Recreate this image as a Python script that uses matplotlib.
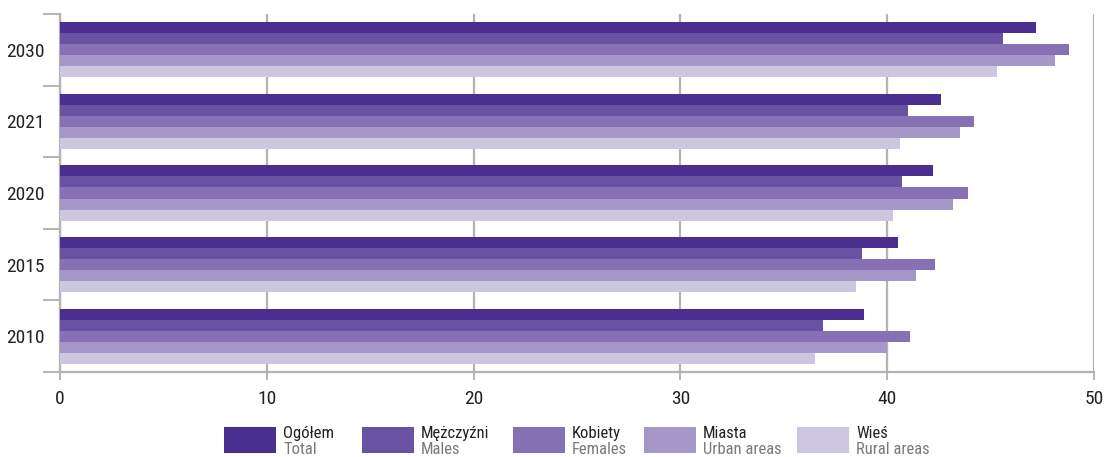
import numpy as np
import matplotlib
matplotlib.use("Agg")
import matplotlib.pyplot as plt
from matplotlib.patches import Rectangle

plt.rcParams['font.family'] = ['Liberation Sans Narrow', 'DejaVu Sans Condensed',
                               'Roboto Condensed', 'Roboto', 'DejaVu Sans']

# ---- data -------------------------------------------------------------------
years = ["2030", "2021", "2020", "2015", "2010"]          # top -> bottom
total = [47.2, 42.6, 42.2, 40.5, 38.9]
males = [45.6, 41.0, 40.7, 38.8, 36.9]
females = [48.8, 44.2, 43.9, 42.3, 41.1]
urban = [48.1, 43.5, 43.2, 41.4, 40.0]
rural = [45.3, 40.6, 40.3, 38.5, 36.5]

labels_pl = ["Ogółem", "Mężczyźni", "Kobiety", "Miasta", "Wieś"]
labels_en = ["Total", "Males", "Females", "Urban areas", "Rural areas"]
colors = ["#4a2f91", "#6a52a3", "#8571b3", "#a597c8", "#ccc6e1"]
series = [total, males, females, urban, rural]

W, H = 1105, 457
fig = plt.figure(figsize=(W / 100, H / 100), dpi=100)
ax = fig.add_axes([60 / W, 1 - 372 / H, (1094 - 60) / W, (372 - 14) / H])

GRID = "#b3b3b3"
bh = 0.154
y = np.arange(len(years))
for i, (vals, c) in enumerate(zip(series, colors)):
    off = (i - 2) * bh
    ax.barh(y + off, vals, height=bh, color=c, zorder=3, linewidth=0)

ax.set_ylim(len(years) - 0.5, -0.5)
ax.set_xlim(0, 50)
ax.set_xticks([0, 10, 20, 30, 40, 50])
ax.xaxis.grid(True, color=GRID, lw=1.6, zorder=0)
ax.set_yticks(y)
ax.set_yticklabels(years)
ax.set_yticks(np.arange(-0.5, len(years), 1.0), minor=True)
ax.tick_params(axis="y", which="major", length=0, pad=11, labelsize=14,
               labelcolor="#222222")
ax.tick_params(axis="y", which="minor", length=12, width=1.4, color=GRID)
ax.tick_params(axis="x", which="major", length=6, width=1.4, color=GRID,
               labelsize=14, labelcolor="#222222", pad=7)
for s in ("top", "right"):
    ax.spines[s].set_visible(False)
for s in ("left", "bottom"):
    ax.spines[s].set_color(GRID)
    ax.spines[s].set_linewidth(1.6)

# ---- legend (two-line labels: Polish / English) -----------------------------
px = [224, 362, 513, 644, 797]
for x0, c, pl, en in zip(px, colors, labels_pl, labels_en):
    fig.patches.append(Rectangle((x0 / W, 1 - 453 / H), 52 / W, 26 / H,
                                 transform=fig.transFigure, color=c, lw=0))
    fig.text((x0 + 59) / W, 1 - 438 / H, pl, fontsize=12, color="#222222",
             va="baseline")
    fig.text((x0 + 59) / W, 1 - 454 / H, en, fontsize=12, color="#7a7a7a",
             va="baseline")

fig.savefig("out.png", dpi=100)
